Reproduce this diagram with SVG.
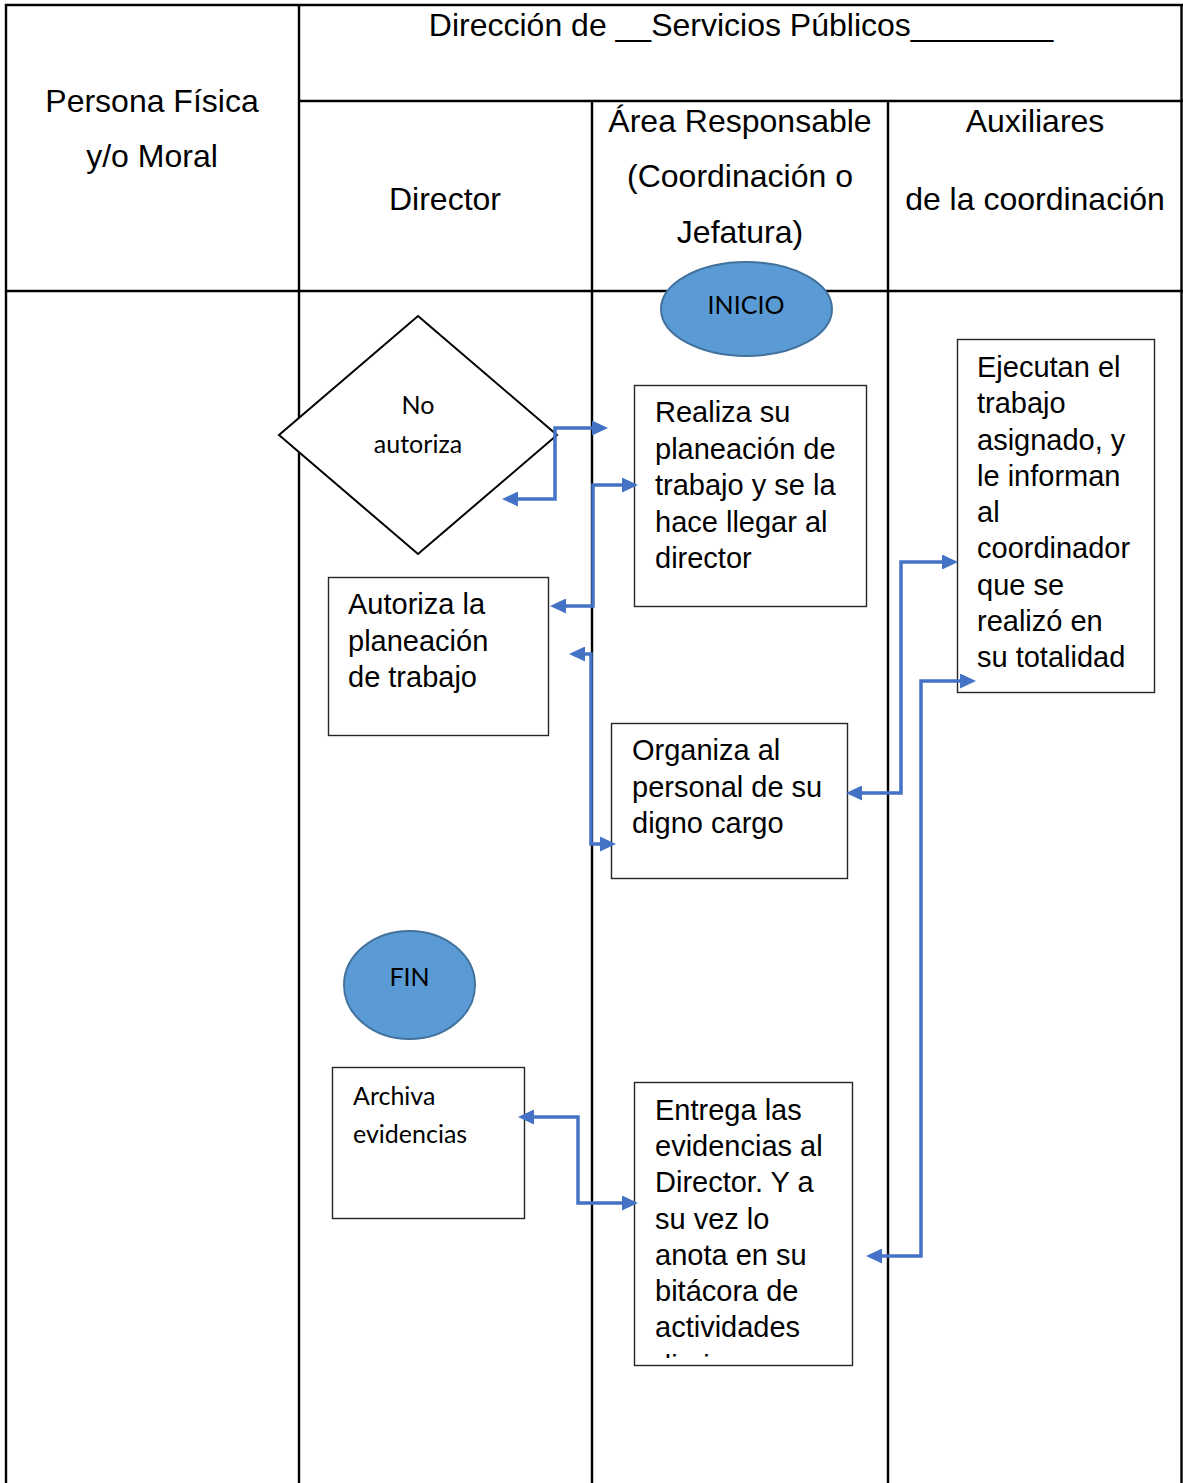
<svg xmlns="http://www.w3.org/2000/svg" width="1183" height="1483" viewBox="0 0 1183 1483">
  <style>
    .grid { stroke: #000; stroke-width: 2.4; fill: none; }
    .hdr { font-family: "Liberation Sans", Arial, sans-serif; font-size: 32px; fill: #000; text-anchor: middle; }
    .box { fill: #fff; stroke: #262626; stroke-width: 1.4; }
    .txt { font-family: "Liberation Sans", Arial, sans-serif; font-size: 29px; fill: #000; }
    .cal { font-family: Lato, "Open Sans", sans-serif; font-size: 25px; fill: #000; }
    .term { fill: #5b9bd5; stroke: #41719c; stroke-width: 2; }
    .link { fill: none; stroke: #4472c4; stroke-width: 3.5; marker-start: url(#arrow); marker-end: url(#arrow); }
  </style>
  <defs>
    <marker id="arrow" viewBox="0 0 16 15" refX="5" refY="7.5" markerWidth="16" markerHeight="15" markerUnits="userSpaceOnUse" orient="auto-start-reverse">
      <path d="M0,0 L16,7.5 L0,15 Z" fill="#4472c4"/>
    </marker>
    <clipPath id="entregaClip">
      <rect x="634" y="1082" width="218" height="276"/>
    </clipPath>
  </defs>

  <rect width="1183" height="1483" fill="#fff"/>

  <!-- swimlane table -->
  <g id="lanes">
    <line class="grid" x1="5" y1="5" x2="1183" y2="5"/>
    <line class="grid" x1="299" y1="101" x2="1183" y2="101"/>
    <line class="grid" x1="5" y1="291" x2="1183" y2="291"/>
    <line class="grid" x1="6" y1="4" x2="6" y2="1483"/>
    <line class="grid" x1="299" y1="4" x2="299" y2="1483"/>
    <line class="grid" x1="592" y1="101" x2="592" y2="1483"/>
    <line class="grid" x1="888" y1="101" x2="888" y2="1483"/>
    <line class="grid" x1="1181.5" y1="4" x2="1181.5" y2="1483"/>

    <text class="hdr" x="741" y="36">Dirección de __Servicios Públicos________</text>
    <text class="hdr" x="152" y="112">Persona Física</text>
    <text class="hdr" x="152" y="167">y/o Moral</text>
    <text class="hdr" x="445" y="210">Director</text>
    <text class="hdr" x="740" y="132">Área Responsable</text>
    <text class="hdr" x="740" y="187">(Coordinación o</text>
    <text class="hdr" x="740" y="243">Jefatura)</text>
    <text class="hdr" x="1035" y="132">Auxiliares</text>
    <text class="hdr" x="1035" y="210">de la coordinación</text>
  </g>

  <!-- start -->
  <g id="inicio">
    <ellipse class="term" cx="746.5" cy="309" rx="85.5" ry="47"/>
    <text class="cal" x="746" y="314" text-anchor="middle">INICIO</text>
  </g>

  <!-- decision -->
  <g id="no-autoriza">
    <polygon points="418,316 557,435 418,554 279,435" fill="#fff" stroke="#000" stroke-width="2"/>
    <text class="cal" x="418" y="414" text-anchor="middle">No</text>
    <text class="cal" x="418" y="453" text-anchor="middle">autoriza</text>
  </g>

  <g id="realiza">
    <rect class="box" x="634.5" y="385.5" width="232" height="221"/>
    <text class="txt" x="655" y="422">Realiza su</text>
    <text class="txt" x="655" y="458.5">planeación de</text>
    <text class="txt" x="655" y="495">trabajo y se la</text>
    <text class="txt" x="655" y="531.5">hace llegar al</text>
    <text class="txt" x="655" y="568">director</text>
  </g>

  <g id="ejecutan">
    <rect class="box" x="957.5" y="339.5" width="197" height="353"/>
    <text class="txt" x="977" y="377">Ejecutan el</text>
    <text class="txt" x="977" y="413">trabajo</text>
    <text class="txt" x="977" y="449.5">asignado, y</text>
    <text class="txt" x="977" y="486">le informan</text>
    <text class="txt" x="977" y="522">al</text>
    <text class="txt" x="977" y="558">coordinador</text>
    <text class="txt" x="977" y="594.5">que se</text>
    <text class="txt" x="977" y="631">realizó en</text>
    <text class="txt" x="977" y="667">su totalidad</text>
  </g>

  <g id="autoriza">
    <rect class="box" x="328.5" y="577.5" width="220" height="158"/>
    <text class="txt" x="348" y="614">Autoriza la</text>
    <text class="txt" x="348" y="650.5">planeación</text>
    <text class="txt" x="348" y="687">de trabajo</text>
  </g>

  <g id="organiza">
    <rect class="box" x="611.5" y="723.5" width="236" height="155"/>
    <text class="txt" x="632" y="760">Organiza al</text>
    <text class="txt" x="632" y="796.5">personal de su</text>
    <text class="txt" x="632" y="833">digno cargo</text>
  </g>

  <!-- end -->
  <g id="fin">
    <ellipse class="term" cx="409.5" cy="985" rx="65.5" ry="54"/>
    <text class="cal" x="409.5" y="986" text-anchor="middle">FIN</text>
  </g>

  <g id="archiva">
    <rect class="box" x="332.5" y="1067.5" width="192" height="151"/>
    <text class="cal" x="353" y="1105" font-size="26">Archiva</text>
    <text class="cal" x="353" y="1143" font-size="26">evidencias</text>
  </g>

  <g id="entrega">
    <rect class="box" x="634.5" y="1082.5" width="218" height="283"/>
    <g clip-path="url(#entregaClip)">
      <text class="txt" x="655" y="1120">Entrega las</text>
      <text class="txt" x="655" y="1156.2">evidencias al</text>
      <text class="txt" x="655" y="1192.4">Director. Y a</text>
      <text class="txt" x="655" y="1228.6">su vez lo</text>
      <text class="txt" x="655" y="1264.8">anota en su</text>
      <text class="txt" x="655" y="1301">bitácora de</text>
      <text class="txt" x="655" y="1337.2">actividades</text>
      <text class="txt" x="655" y="1375.5">diarias</text>
    </g>
  </g>

  <!-- connectors -->
  <g id="connectors">
    <path class="link" d="M513,499 H555 V428 H597"/>
    <path class="link" d="M561,606 H593 V485 H627"/>
    <path class="link" d="M580,654 H591 V844 H605"/>
    <path class="link" d="M857,793 H901 V562 H947"/>
    <path class="link" d="M877,1256 H921 V681 H965"/>
    <path class="link" d="M529,1117 H578 V1203 H627"/>
  </g>
</svg>
